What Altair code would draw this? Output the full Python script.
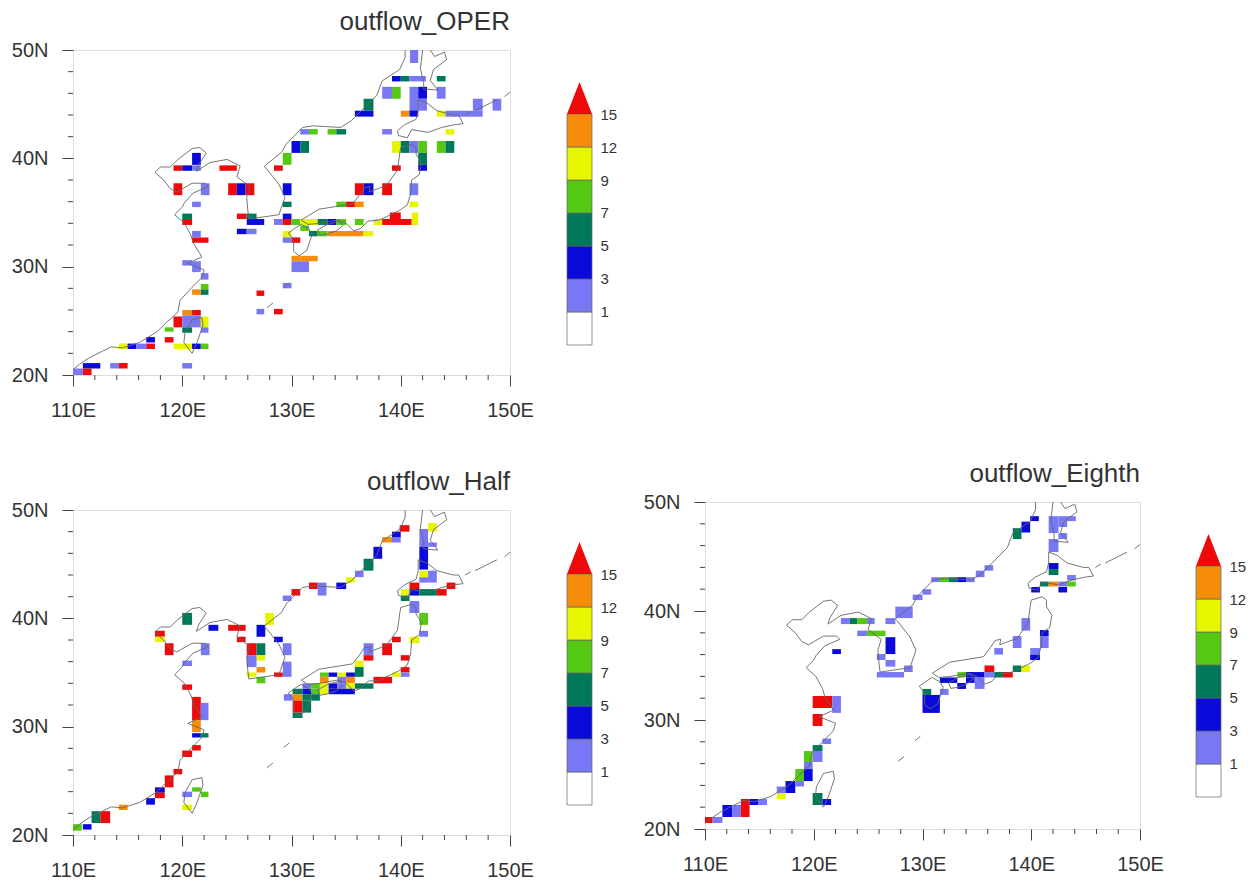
import altair as alt
import pandas as pd

FONT = "Liberation Sans"
CLASSES = ["w", "p", "b", "d", "g", "y", "o", "r"]
COLORS = ["#ffffff", "#7878f5", "#0a0ada", "#00785a", "#55c814", "#e6f500", "#f58c0a", "#ee0a0a"]
BAR_LABELS = ["1", "3", "5", "7", "9", "12", "15"]

# (lon west, lon east, lat south, lat north, class)
OPER = [
 (119.2,120,38.85,39.35,"r"),(120,120.9,38.85,39.35,"b"),(120.9,121.7,38.85,39.35,"p"),(120.9,121.7,39.4,40.5,"b"),
 (119.2,120,36.6,37.7,"r"),(121.7,122.5,36.6,37.7,"p"),(120.9,121.7,35.5,36,"p"),(123.4,125,38.85,39.35,"r"),
 (124.2,125,36.6,37.7,"r"),(125,125.8,36.6,37.7,"b"),(125.8,126.6,36.6,37.7,"r"),(129.2,130,39.4,40.5,"g"),
 (128.4,129.2,38.85,39.35,"r"),(129.2,130,36.6,37.7,"b"),(129.2,130,35.5,36,"d"),
 (140.85,141.6,48.8,50,"p"),(139.2,140,47.1,47.6,"b"),(140,140.8,47.1,47.6,"d"),(140.8,142.3,47.1,47.6,"p"),(143.3,144.1,47.1,47.6,"d"),
 (138.3,139.2,45.5,46.6,"p"),(139.2,140,45.5,46.6,"g"),(140.8,141.6,44.3,46.6,"p"),(141.6,142.4,45.5,46.6,"b"),(141.6,142.4,44.4,45.5,"p"),(143.3,144.1,45.5,46.6,"p"),
 (136.6,137.5,44.4,45.5,"d"),(135.8,137.5,43.85,44.4,"b"),(140,140.8,43.85,44.4,"o"),(140.8,141.6,43.85,44.4,"b"),
 (143.3,144.1,43.85,44.4,"y"),(144.1,147.5,43.85,44.4,"p"),(146.6,147.5,44.4,45.5,"p"),(148.4,149.2,44.4,45.5,"p"),
 (130.8,131.6,42.2,42.7,"p"),(131.6,132.4,42.2,42.7,"g"),(133.3,134.1,42.2,42.7,"g"),(134.1,135,42.2,42.7,"d"),(138.3,139.2,42.2,42.7,"p"),(144.1,144.9,42.2,42.7,"y"),
 (130,130.8,40.5,41.6,"b"),(130.8,131.6,40.5,41.6,"d"),(139.2,140,40.5,41.6,"y"),(140,140.8,40.5,41.6,"d"),(140.8,141.6,40.5,41.6,"p"),(141.6,142.4,40.5,41.6,"g"),(143.3,144.1,40.5,41.6,"g"),(144.1,144.9,40.5,41.6,"d"),
 (141.6,142.4,39.4,40.5,"d"),(141.6,142.4,38.85,39.4,"b"),(139.2,140,38.85,39.35,"r"),
 (135.8,136.6,36.6,37.7,"r"),(136.6,137.5,36.6,37.7,"b"),(138.3,139.2,36.6,37.7,"r"),(140.8,141.6,36.6,37.7,"p"),
 (134.1,135,35.5,36,"g"),(135,135.8,35.5,36,"r"),(135.8,136.6,35.5,36,"o"),(140.8,141.6,35.5,36,"y"),
 (120,120.9,34.4,34.9,"d"),(120,120.9,33.85,34.4,"r"),(125,125.9,34.4,34.9,"r"),(125.9,126.8,34.4,34.9,"d"),(125.9,127.5,33.85,34.4,"b"),
 (128.4,129.2,33.85,34.4,"p"),(129.2,130,34.4,34.9,"b"),(129.2,130,33.85,34.4,"r"),(130,130.8,33.85,34.4,"g"),
 (125,125.9,33,33.5,"b"),(125.9,126.8,33,33.5,"p"),(120.9,121.7,32.7,33.3,"p"),(120.9,122.4,32.2,32.7,"r"),
 (129.2,130,32.7,33.3,"y"),(129.2,130,32.2,32.7,"p"),(130,130.8,32.2,32.7,"r"),
 (130.8,132.4,33.85,34.4,"y"),(132.4,133.3,33.85,34.4,"d"),(133.3,134.1,33.85,34.4,"b"),(134.1,135,33.85,34.4,"g"),
 (130.8,131.6,33.3,33.8,"g"),(131.6,132.4,32.8,33.3,"d"),(132.4,133.3,32.8,33.3,"g"),(133.3,136.6,32.8,33.3,"o"),(136.6,137.5,32.8,33.3,"y"),(135.8,136.6,33.85,34.4,"g"),(137.5,138.3,33.85,34.4,"y"),
 (138.3,141,33.85,34.4,"r"),(141,141.6,33.85,34.4,"y"),(141,141.6,34.4,35,"y"),(139,140,34.4,35,"r"),
 (130,131.6,29.5,30.5,"p"),(130,130.8,30.5,31,"o"),(130.8,132.4,30.5,31,"o"),
 (120.9,121.7,29.5,30.5,"p"),(120,120.9,30.1,30.6,"p"),(121.7,122.4,28.8,29.4,"p"),
 (121.7,122.4,27.9,28.4,"g"),(121.7,122.4,27.4,27.9,"d"),(120.9,121.7,27.4,27.9,"o"),
 (126.8,127.5,27.3,27.8,"r"),(129.2,130,28,28.5,"p"),(126.8,127.5,25.6,26.1,"p"),(128.4,129.2,25.6,26.1,"r"),
 (119.2,120,24.4,25.4,"r"),(120,120.9,25.5,26,"o"),(120.9,121.7,25.5,26,"r"),(120,121.7,24.4,25.5,"p"),(121.7,122.4,24.4,25.4,"y"),
 (118.4,119.2,24,24.4,"g"),(120,120.9,23.9,24.4,"d"),(121.7,122.4,23.9,24.4,"p"),(118.4,119.2,23,23.5,"r"),
 (116.7,117.5,23,23.5,"b"),(116.7,117.5,22.4,22.9,"r"),(114.2,115,22.4,22.9,"y"),(115,115.8,22.4,22.9,"b"),(115.8,116.7,22.4,22.9,"p"),
 (119.2,120.9,22.4,22.9,"y"),(120.9,121.7,22.4,22.9,"b"),(121.7,122.4,22.4,22.9,"g"),
 (110.9,112.5,20.6,21.1,"b"),(113.4,114.2,20.6,21.1,"p"),(114.2,115,20.6,21.1,"r"),(120,120.9,20.6,21.1,"p"),
 (110.9,111.7,20,20.6,"r"),(110,110.9,20,20.6,"p"),
]

HALF = [
 (120,120.9,35.6,36.1,"p"),(120,120.9,33.4,33.9,"r"),(120.9,121.7,30.6,32.75,"r"),(121.7,122.4,30.6,32.2,"p"),
 (120.9,121.7,29.5,30.6,"o"),(120.9,121.7,29,29.4,"b"),(121.7,122.4,29,29.4,"d"),(120.9,121.7,27.8,28.3,"r"),(120,120.9,27.2,27.8,"r"),
 (119.2,120,25.6,26.1,"r"),(118.4,119.2,24.4,25.5,"r"),(117.5,118.4,23.9,24.4,"b"),(117.5,118.4,23.4,23.9,"r"),(116.7,117.5,22.8,23.4,"b"),
 (114.2,115,22.3,22.8,"o"),(112.5,113.4,21.1,22.2,"r"),(111.7,112.5,21.1,22.2,"d"),(110.9,111.7,20.5,21,"b"),(110,110.8,20.4,21,"g"),
 (120.9,121.7,24,24.4,"g"),(121.7,122.4,23.5,24,"g"),(120,120.9,23.5,24,"p"),(120,120.9,22.3,22.8,"y"),
 (120,120.9,39.4,40.5,"d"),(122.4,123.3,38.85,39.4,"b"),(124.2,125.8,38.85,39.4,"r"),(117.5,118.4,38.3,38.85,"r"),(117.5,118.4,37.8,38.3,"y"),
 (118.4,119.2,36.6,37.7,"r"),(121.7,122.5,36.6,37.7,"p"),(125,125.8,37.8,38.3,"r"),(126.8,127.6,38.3,39.4,"b"),
 (125.9,126.8,36.6,37.7,"r"),(126.8,127.6,36.6,37.7,"d"),(126.8,127.6,36.1,36.6,"y"),(125.9,126.8,35.5,36.6,"p"),(126.8,127.6,35,35.5,"o"),(125.9,126.8,34.6,35,"y"),(126.8,127.6,34,34.6,"g"),
 (127.6,128.4,39.4,40.5,"y"),(128.4,129.2,37.8,38.3,"b"),(129.2,130,36.6,37.7,"p"),(129.2,130,34.6,36,"p"),(128.4,129.2,34.6,35,"r"),
 (129.2,130,41.6,42.1,"p"),(130,130.8,42.1,42.7,"r"),(131.6,132.4,42.7,43.3,"r"),(132.4,133.2,42.1,43.3,"p"),(134.1,135,42.7,43.3,"b"),
 (135,135.8,43.3,43.8,"y"),(135.8,136.6,43.8,44.4,"p"),(136.6,137.5,44.4,45.5,"d"),(137.5,138.3,45.5,46.6,"b"),(138.3,139.2,47,47.5,"o"),(139.2,140,47,47.5,"p"),(139.2,140,47.5,48,"b"),(139.9,140.8,48,48.6,"r"),
 (142.5,143.3,48,48.8,"y"),(141.7,142.5,46.6,48.25,"p"),(142.5,143.3,46.6,47,"p"),(141.7,142.5,44.5,46.6,"b"),(142.5,143.3,43.3,44.4,"p"),(141.7,142.5,43.3,43.8,"p"),(141.7,142.5,43.8,44.4,"y"),
 (140.8,141.7,42.7,43.3,"r"),(140,140.8,42.1,42.7,"y"),(140.8,141.7,42.1,42.7,"b"),(141.7,143.3,42.1,42.7,"d"),(143.3,144.2,42.1,42.7,"r"),(144.2,145,42.7,43.3,"r"),
 (140,140.8,41.6,42.1,"d"),(140.8,141.7,40.5,41.6,"p"),(141.7,142.5,39.4,40.5,"g"),(141.7,142.5,38.3,38.85,"p"),(140.8,141.7,37.7,38.3,"y"),(139.2,140,37.8,38.3,"r"),
 (138.3,139.2,36.6,37.7,"r"),(136.6,137.5,36.6,37.7,"p"),(136.6,137.5,36.1,36.6,"r"),(140,140.8,36.1,36.6,"r"),
 (135.8,136.6,35.5,36.1,"y"),(135.8,136.6,34.6,35.5,"d"),(140,140.8,35,35.5,"r"),(140,140.8,34.6,35,"p"),(139.2,140,34.6,35,"y"),
 (137.5,139.2,34,34.6,"r"),(135.8,137.5,33.5,34,"d"),
 (132.6,133.4,34.6,35,"g"),(133.4,134.2,34.6,35,"b"),(134.2,135,34.6,35,"y"),(135,135.8,34.6,35,"b"),
 (132.6,133.4,34,34.6,"o"),(134.2,135,34,34.6,"p"),(135,135.8,34,34.6,"o"),
 (131.8,132.6,33.5,34,"g"),(132.6,133.4,33.5,34,"y"),(133.4,134.2,33.5,34,"b"),(134.2,135,33.5,34,"p"),(135,135.8,33.5,34,"y"),
 (131,131.8,33,33.5,"b"),(131.8,132.6,33,33.5,"g"),(132.6,133.4,33,33.5,"y"),(133.4,135.8,33,33.5,"b"),
 (131,131.8,33.5,34,"p"),(130.1,131,33,33.5,"d"),(129.3,130.1,32.4,33,"p"),(130.1,131,32.4,33,"o"),(131,131.8,32.4,33,"d"),(131.8,132.6,32.4,33,"d"),
 (130.1,131,31.3,32.4,"r"),(131,131.8,31.3,32.4,"d"),(130.1,131,30.8,31.3,"d"),
]

EIGHTH = [
 (110,110.7,20.55,21.1,"r"),(110.7,111.6,20.55,21.1,"p"),(111.6,112.5,21.1,22.2,"b"),(112.5,113.3,21.1,22.2,"p"),(113.3,114.1,21.1,22.75,"r"),
 (114.1,114.9,22.2,22.75,"b"),(114.9,115.7,22.2,22.75,"p"),(116.6,117.4,22.75,23.3,"y"),(116.6,117.4,23.3,23.9,"p"),(117.4,118.3,23.3,24.4,"b"),
 (118.3,119.1,23.9,24.4,"p"),(118.3,119.1,24.4,25.5,"g"),(119.1,119.9,24.4,25.5,"b"),(119.9,120.8,26.15,27.15,"p"),(119.1,119.9,25.5,26.15,"p"),(119.1,119.9,26.15,27.15,"g"),
 (119.9,120.8,27.15,27.7,"d"),(120.8,121.6,27.8,28.3,"p"),(119.9,120.8,29.45,30.55,"r"),(119.9,121.7,31.1,32.2,"r"),(121.7,122.5,30.65,32.2,"p"),(121.7,122.5,36.05,36.5,"b"),
 (119.9,120.8,22.2,23.3,"d"),(120.8,121.6,22.2,22.75,"b"),
 (122.5,123.3,38.8,39.35,"p"),(123.3,124,38.8,39.35,"d"),(124,124.9,38.8,39.35,"g"),(124.9,125.6,38.8,39.35,"p"),
 (124,124.9,37.7,38.2,"p"),(124.9,126.6,37.7,38.2,"g"),(126.6,127.5,36.05,37.6,"b"),(125.8,126.6,35.5,36.05,"p"),(126.6,127.5,34.9,35.5,"p"),
 (125.8,128.3,33.9,34.4,"p"),(128.3,129.1,34.4,35,"p"),(126.6,127.5,38.8,39.35,"p"),(127.5,129.1,39.35,40.4,"p"),
 (129.1,130,41,41.5,"p"),(130,130.8,41.5,42,"p"),(130.8,131.6,42.65,43.1,"p"),(131.6,132.4,42.65,43.1,"g"),(132.4,133.2,42.65,43.1,"d"),(133.2,134,42.65,43.1,"b"),(134,134.8,42.65,43.1,"p"),
 (134.9,135.7,43.1,43.7,"p"),(135.7,136.5,43.7,44.2,"p"),
 (138.3,139.1,46.6,47.6,"d"),(139.1,139.9,47.2,48.2,"b"),(139.9,140.7,48.25,48.7,"b"),
 (141.6,142.5,47.15,48.7,"p"),(142.5,144.1,48.25,48.7,"p"),(142.5,143.3,47.7,48.25,"p"),(142.5,143.3,46.6,47.15,"p"),(141.6,142.5,45.4,46.6,"p"),
 (141.6,142.5,43.85,44.4,"b"),(141.6,142.5,43.3,43.85,"d"),(143.3,144.1,42.8,43.3,"p"),
 (140.8,141.6,42.25,42.7,"d"),(141.6,142.5,42.25,42.7,"o"),(142.5,143.3,42.25,42.7,"p"),(143.3,144.1,42.25,42.7,"g"),(140,140.8,41.7,42.2,"b"),(142.5,143.3,41.7,42.2,"b"),
 (139.1,139.9,38.2,39.35,"p"),(138.3,139.1,36.6,37.7,"p"),(140.8,141.6,37.7,38.25,"b"),(140.8,141.6,36.6,37.7,"p"),(139.9,140.8,36,36.6,"p"),(139.9,140.8,35.5,36,"b"),(136.6,137.4,36,36.6,"p"),
 (135.7,136.6,34.4,35,"r"),(138.3,139.1,34.4,35,"d"),(139.1,139.9,34.4,35,"y"),
 (133.2,134,33.9,34.4,"g"),(134,135.7,33.9,34.4,"b"),(135.7,136.6,33.9,34.4,"p"),(136.6,137.4,33.9,34.4,"d"),(137.4,138.3,33.9,34.4,"r"),
 (131.6,133.2,33.4,33.9,"b"),(134,134.8,33.4,33.9,"b"),(134.8,135.7,33.4,33.9,"p"),(133.2,134,32.85,33.4,"b"),(134.8,135.7,32.85,33.4,"p"),
 (130,130.8,32.3,32.85,"d"),(131.6,132.4,32.3,32.85,"p"),(130,131.6,30.65,32.3,"b"),
]

COAST_MAIN = [(110,20.5),(110.6,21),(111.5,21.6),(112.7,22.2),(113.5,22.6),(114.5,22.5),(116.1,23),(117.7,24),(118.6,24.9),(119.6,25.8),(119.8,26.9),(120.9,28.1),(121.8,29),(122,29.7),(120.5,30.3),(121.8,30.9),(121,32.2),(120.8,32.9),(120.2,34),(119.3,34.8),(120,35.5),(120.2,35.9),(121,36.8),(122.4,37.4),(122.1,37.7),(120.9,37.7),(119.5,36.9),(118.9,37.2),(118.3,38),(117.5,38.7),(118,39.2),(118.9,39.2),(119.6,39.9),(120.9,40.9),(121.6,41),(122.2,40.5),(121.5,39.4),(121.3,38.8),(122.5,39.6),(124.1,39.9),(125.3,39.3),(125,38.3),(126.2,37.4),(125.9,36.4),(126,35.2),(126.1,34.4),(127.5,34.6),(128.85,34.8),(129.4,36.4),(128.85,37.6),(127.75,39),(127.5,39.25),(127.9,39.6),(129.1,40.55),(129.5,41.3),(131,42.85),(132,43),(134.5,42.85),(135.5,43.5),(136.4,44.4),(137.8,45.8),(138.3,47.15),(139.9,48.2),(140.4,49.3),(140.4,50)]
COAST_SAKHALIN = [(142,50),(141.8,48.3),(142.1,47),(142.1,46.4),(143.4,46.3),(142.7,47.2),(143,48.2),(144.2,49.1),(144,49.8),(143.1,49.4),(142.7,50)]
COAST_HOKKAIDO = [(141.6,45.4),(141.6,44.4),(141.4,43.6),(140.35,43.1),(139.7,42.55),(139.8,42.1),(140.6,41.9),(141,42.65),(142.5,42.4),(143.75,42.85),(144.9,43.1),(145.7,43.2),(145.3,44),(144.8,44),(143.3,44.4),(142.4,45.1),(141.6,45.4)]
COAST_HONSHU = [(130.9,34.3),(132.5,35.3),(135.6,35.8),(136.2,36.6),(136.7,37.3),(137.2,37.4),(137.1,36.9),(138.7,37.5),(139.7,38.9),(139.9,40.4),(140,41),(141,41.3),(141.4,41),(141.4,40.4),(141.9,39.6),(141.7,38.5),(141,38),(140.9,36.7),(140.6,35.7),(139.9,35.2),(139.1,34.8),(138,34.3),(137,34.2),(136.3,33.5),(135.7,33.3),(135,34),(134.2,34.3),(132.6,34),(131.5,33.9),(130.9,34.3)]
COAST_KYUSHU = [(130.9,33.9),(131.6,33.5),(131.9,33),(131.4,31.5),(130.7,31),(130.2,31.4),(130.2,32.5),(129.7,33.1),(130.4,33.6),(130.9,33.9)]
COAST_SHIKOKU = [(132.4,33.4),(133.3,33.9),(134.4,34.2),(134.7,33.8),(134.1,33.3),(133.2,33),(132.6,32.9),(132.4,33.4)]
COAST_TAIWAN = [(121.8,25.3),(120.9,25.1),(120.25,23.9),(120.15,23),(120.9,22),(121.35,23),(121.9,24.6),(121.8,25.3)]
COAST_R1 = [(127.75,26.2),(128.3,26.65)]
COAST_R2 = [(129.3,28.1),(129.8,28.5)]
COAST_K1 = [(145.9,44),(146.4,44.3)]
COAST_K2 = [(146.8,44.4),(148.8,45.4)]
COAST_K3 = [(149.5,45.7),(150,46.1)]
COASTS = [COAST_MAIN, COAST_SAKHALIN, COAST_HOKKAIDO, COAST_HONSHU, COAST_KYUSHU, COAST_SHIKOKU, COAST_TAIWAN,
          COAST_R1, COAST_R2, COAST_K1, COAST_K2, COAST_K3]

X_MAJOR = [110, 120, 130, 140, 150]
Y_MAJOR = [20, 30, 40, 50]
X_MINOR = [v for v in range(110, 151, 2) if v % 10]
Y_MINOR = [v for v in range(20, 51, 2) if v % 10]

coast_df = pd.DataFrame([
    {"seg": i, "k": k, "lon": p[0], "lat": p[1]}
    for i, seg in enumerate(COASTS) for k, p in enumerate(seg)
])

AX = "#444444"


def panel(cells, title, w=437, h=325):
    df = pd.DataFrame(cells, columns=["x1", "x2", "y1", "y2", "c"])
    xs = alt.Scale(domain=[110, 150], nice=False, zero=False)
    ys = alt.Scale(domain=[20, 50], nice=False, zero=False)
    xax = alt.Axis(values=X_MAJOR, labelExpr="datum.value + 'E'", title=None, grid=False, domain=False,
                   tickSize=11, tickColor=AX, labelFont=FONT, labelFontSize=20, labelColor="#333333",
                   labelPadding=14, labelAngle=0, labelFlush=False)
    yax = alt.Axis(values=Y_MAJOR, labelExpr="datum.value + 'N'", title=None, grid=False, domain=False,
                   tickSize=11, tickColor=AX, labelFont=FONT, labelFontSize=20, labelColor="#333333",
                   labelPadding=14, labelFlush=False)
    rects = alt.Chart(df).mark_rect().encode(
        x=alt.X("x1:Q", scale=xs, axis=xax), x2="x2:Q",
        y=alt.Y("y1:Q", scale=ys, axis=yax), y2="y2:Q",
        color=alt.Color("c:N", scale=alt.Scale(domain=CLASSES, range=COLORS), legend=None),
    )
    coast = alt.Chart(coast_df).mark_line(color="#666666", strokeWidth=0.9).encode(
        x=alt.X("lon:Q", scale=xs), y=alt.Y("lat:Q", scale=ys),
        detail="seg:N", order="k:Q",
    )
    xminor = alt.Chart(pd.DataFrame({"v": X_MINOR})).mark_rule(color=AX, strokeWidth=1).encode(
        x=alt.X("v:Q", scale=xs), y=alt.value(h), y2=alt.value(h + 5))
    yminor = alt.Chart(pd.DataFrame({"v": Y_MINOR})).mark_rule(color=AX, strokeWidth=1).encode(
        y=alt.Y("v:Q", scale=ys), x=alt.value(-5), x2=alt.value(0))
    return alt.layer(rects, coast, xminor, yminor).properties(
        width=w, height=h,
        title=alt.TitleParams(title, anchor="end", frame="group", font=FONT, fontSize=26, fontWeight="normal",
                              color="#333333", offset=5),
    )


def colorbar(h=325):
    bar = pd.DataFrame({"y1": list(range(7)), "y2": list(range(1, 8)), "c": CLASSES[:7]})
    ys = alt.Scale(domain=[-0.91, 8.94], nice=False, zero=False)
    xs = alt.Scale(domain=[0, 1], nice=False, zero=False)
    yax = alt.Axis(values=list(range(1, 8)), orient="right", title=None, grid=False, domain=False, ticks=False,
                   labelExpr="%s[datum.value - 1]" % str(BAR_LABELS),
                   labelFont=FONT, labelFontSize=15, labelColor="#333333", labelPadding=8)
    rects = alt.Chart(bar).mark_rect(stroke="#666666", strokeWidth=0.7).encode(
        x=alt.value(0), x2=alt.value(25),
        y=alt.Y("y1:Q", scale=ys, axis=yax), y2="y2:Q",
        color=alt.Color("c:N", scale=alt.Scale(domain=CLASSES, range=COLORS), legend=None),
    )
    tri = pd.DataFrame({"x": [0, 0.5, 1], "a": [7, 7, 7], "b": [7, 7.97, 7]})
    arrow = alt.Chart(tri).mark_area(color=COLORS[-1]).encode(
        x=alt.X("x:Q", scale=xs, axis=None), y=alt.Y("a:Q", scale=ys), y2="b:Q",
    )
    return alt.layer(rects, arrow).properties(width=25, height=h, view=alt.ViewConfig(stroke=None))


spacer = alt.Chart(pd.DataFrame({"a": [0]})).mark_point(opacity=0).encode(
    x=alt.X("a:Q", axis=None), y=alt.Y("a:Q", axis=None)
).properties(width=1, height=340, view=alt.ViewConfig(stroke=None))

left = alt.vconcat(
    alt.hconcat(panel(OPER, "outflow_OPER"), colorbar(), spacing=32),
    alt.hconcat(panel(HALF, "outflow_Half"), colorbar(), spacing=32),
    spacing=47,
)
right = alt.vconcat(
    spacer,
    alt.hconcat(panel(EIGHTH, "outflow_Eighth", 435, 327), colorbar(), spacing=31),
    spacing=70,
)
chart = alt.hconcat(left, right, spacing=25).properties(
    padding={"left": 2, "top": 0, "right": 0, "bottom": 0}
).configure_view(stroke="#555555", strokeWidth=1.5).configure(background="white")

chart.save("out.html", embed_options={"renderer": "svg", "actions": False})
